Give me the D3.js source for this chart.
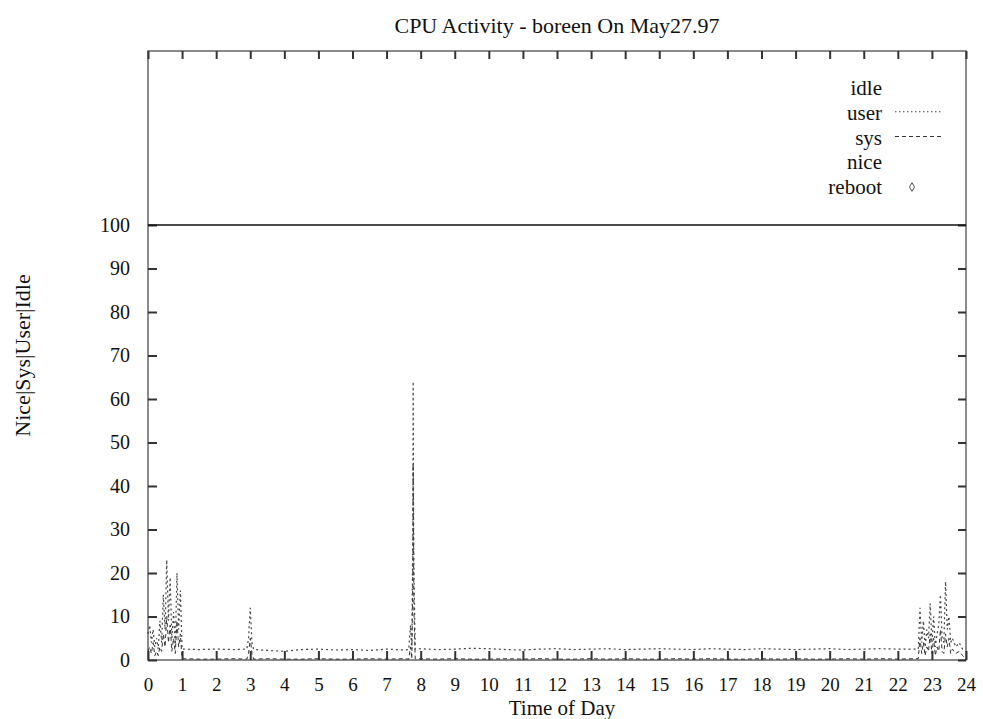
<!DOCTYPE html>
<html>
<head>
<meta charset="utf-8">
<script src="https://cdn.jsdelivr.net/npm/d3@7"></script>
<style>
  body { margin: 0; background: #fff; }
  text { font-family: "Liberation Serif", "DejaVu Serif", serif; fill: #111; }
</style>
</head>
<body>
<script>
// sample times (hours of the day)
var hours = [
    0.00, 0.05, 0.10, 0.15, 0.20, 0.25, 0.30, 0.35, 0.40, 0.45, 0.50, 0.55, 0.60, 0.65, 0.70, 0.75, 0.80, 0.85, 0.90, 0.95, 1.00,
    1.5, 2.0, 2.5, 2.9, 2.95, 3.0, 3.05, 3.1, 3.5, 4.0, 4.5, 5.0, 5.5, 6.0, 6.5, 7.0, 7.5, 7.65, 7.7, 7.74,
    7.77, 7.78, 7.79, 7.8, 7.84, 7.9, 8.5, 9.0, 9.5, 10.0, 10.5, 11.0, 11.5, 12.0, 12.5, 13.0, 13.5, 14.0,
    14.5, 15.0, 15.5, 16.0, 16.5, 17.0, 17.5, 18.0, 18.5, 19.0, 19.5, 20.0, 20.5, 21.0, 21.5, 22.0, 22.5,
    22.6, 22.65, 22.7, 22.75, 22.8, 22.85, 22.9, 22.95, 23.0, 23.05, 23.1, 23.15, 23.2, 23.25, 23.3, 23.35,
    23.4, 23.45, 23.5, 23.55, 23.6, 23.7, 23.8, 23.9, 24.0
];

// user % (dotted)
var userPct = [
    6, 8, 4, 7, 3, 5, 2.5, 9, 4, 15, 7, 23, 9, 19, 5, 11, 3, 20, 7, 16, 2.5,
    2.4, 2.5, 2.4, 2.5, 5, 12, 4, 2.4, 2.2, 2.0, 2.4, 2.5, 2.3, 2.4, 2.2, 2.5, 2.3, 2.4, 8, 2.5,
    30, 64, 38, 22, 2.5, 2.6, 2.4, 2.5, 2.7, 2.6, 2.4, 2.3, 2.5, 2.6, 2.4, 2.5, 2.6, 2.4,
    2.5, 2.6, 2.5, 2.4, 2.6, 2.5, 2.4, 2.6, 2.5, 2.4, 2.5, 2.6, 2.4, 2.5, 2.6, 2.5, 2.5,
    2.5, 12, 4, 9, 3, 7, 5, 13, 4, 10, 3, 6, 8, 15, 5, 4,
    18, 7, 10, 4, 5, 3, 4, 2.5, 2.5
];

// sys % (dashed)
var sysPct = [
    2, 3, 1.5, 4, 1, 2, 1, 3, 2, 6, 3, 10, 4, 8, 2, 5, 1.5, 9, 3, 6, 0.3,
    0.2, 0.2, 0.3, 0.2, 1.5, 5, 1.5, 0.2, 0.3, 0.2, 0.2, 0.3, 0.2, 0.2, 0.3, 0.2, 0.3, 0.2, 3, 0.3,
    20, 45, 30, 12, 0.3, 0.3, 0.2, 0.3, 0.2, 0.2, 0.3, 0.2, 0.3, 0.2, 0.2, 0.3, 0.2, 0.3,
    0.2, 0.2, 0.3, 0.2, 0.3, 0.2, 0.2, 0.3, 0.2, 0.3, 0.2, 0.2, 0.3, 0.2, 0.3, 0.2, 0.3,
    0.3, 5, 1.5, 4, 1, 3, 2, 6, 1.5, 5, 1, 3, 2, 7, 2, 1.5,
    6, 3, 5, 1.5, 2.5, 1.5, 2, 1, 0.3
];

var idleLevel = 100;
var xTicks = d3.range(0, 25);       // 0..24
var yTicks = d3.range(0, 101, 10);  // 0..100
var legendNames = ["idle", "user", "sys", "nice", "reboot"];

window.onload = function(){
    var w = 983, h = 719;
    var left = 148, right = 966, top = 51, bottom = 660;

    var svg = d3.select("body")
        .append("svg")
        .attr("width", w)
        .attr("height", h);

    var x = d3.scaleLinear().domain([0, 24]).range([left, right]);
    var y = d3.scaleLinear().domain([0, 140]).range([bottom, top]);

    // frame
    svg.append("rect")
        .attr("x", left)
        .attr("y", top)
        .attr("width", right - left)
        .attr("height", bottom - top)
        .style("fill", "none")
        .style("stroke", "#666")
        .style("stroke-width", 1.5);

    // axes, ticks pointing inward like gnuplot
    var bottomAxis = svg.append("g")
        .attr("transform", "translate(0," + bottom + ")")
        .call(d3.axisBottom(x).tickValues(xTicks).tickSize(-9).tickPadding(18).tickFormat(d3.format("d")));
    var leftAxis = svg.append("g")
        .attr("transform", "translate(" + left + ",0)")
        .call(d3.axisLeft(y).tickValues(yTicks).tickSize(-9).tickPadding(18));
    var topAxis = svg.append("g")
        .attr("transform", "translate(0," + top + ")")
        .call(d3.axisTop(x).tickValues(xTicks).tickSize(-8).tickFormat(""));
    var rightAxis = svg.append("g")
        .attr("transform", "translate(" + right + ",0)")
        .call(d3.axisRight(y).tickValues(yTicks).tickSize(-8).tickFormat(""));

    [bottomAxis, leftAxis, topAxis, rightAxis].forEach(function(g){
        g.select(".domain").remove();
        g.selectAll(".tick line").style("stroke", "#333").style("stroke-width", 2);
        g.selectAll(".tick text")
            .style("font-size", "20px")
            .style("font-family", "Liberation Serif")
            .style("fill", "#111");
    });
    bottomAxis.selectAll(".tick text").style("font-size", "19px");

    // idle line (solid)
    svg.append("line")
        .attr("x1", x(0))
        .attr("x2", x(24))
        .attr("y1", y(idleLevel))
        .attr("y2", y(idleLevel))
        .style("stroke", "#111")
        .style("stroke-width", 1.5);

    var line = d3.line()
        .x(function(d){ return x(d[0]); })
        .y(function(d){ return y(d[1]); });

    // sys (dashed)
    svg.append("path")
        .datum(d3.zip(hours, sysPct))
        .attr("d", line)
        .style("fill", "none")
        .style("stroke", "#333")
        .style("stroke-width", 1)
        .style("stroke-dasharray", "4,3");

    // user (dotted)
    svg.append("path")
        .datum(d3.zip(hours, userPct))
        .attr("d", line)
        .style("fill", "none")
        .style("stroke", "#444")
        .style("stroke-width", 1.2)
        .style("stroke-dasharray", "2,3");

    // legend
    var legY = d3.scalePoint().domain(legendNames).range([95, 194]);
    svg.selectAll(".legLabel")
        .data(legendNames)
        .enter()
        .append("text")
        .attr("class", "legLabel")
        .attr("x", 882)
        .attr("y", function(d){ return legY(d); })
        .attr("text-anchor", "end")
        .style("font-size", "21px")
        .text(function(d){ return d; });

    svg.append("line")
        .attr("x1", 895).attr("x2", 942)
        .attr("y1", legY("user") - 8).attr("y2", legY("user") - 8)
        .style("stroke", "#444")
        .style("stroke-dasharray", "1.5,2.5");
    svg.append("line")
        .attr("x1", 895).attr("x2", 942)
        .attr("y1", legY("sys") - 8).attr("y2", legY("sys") - 8)
        .style("stroke", "#333")
        .style("stroke-dasharray", "4,3");
    svg.append("path")
        .attr("d", d3.symbol().type(d3.symbolDiamond).size(22))
        .attr("transform", "translate(912," + (legY("reboot") - 7) + ")")
        .style("fill", "none")
        .style("stroke", "#555");

    // title and axis labels
    svg.append("text")
        .attr("x", (left + right) / 2)
        .attr("y", 33)
        .attr("text-anchor", "middle")
        .style("font-size", "22px")
        .text("CPU Activity - boreen On May27.97");

    svg.append("text")
        .attr("x", 562)
        .attr("y", 715)
        .attr("text-anchor", "middle")
        .style("font-size", "21px")
        .text("Time of Day");

    svg.append("text")
        .attr("transform", "translate(30," + ((top + bottom) / 2) + ") rotate(-90)")
        .attr("text-anchor", "middle")
        .style("font-size", "22px")
        .text("Nice|Sys|User|Idle");
};
</script>
</body>
</html>
